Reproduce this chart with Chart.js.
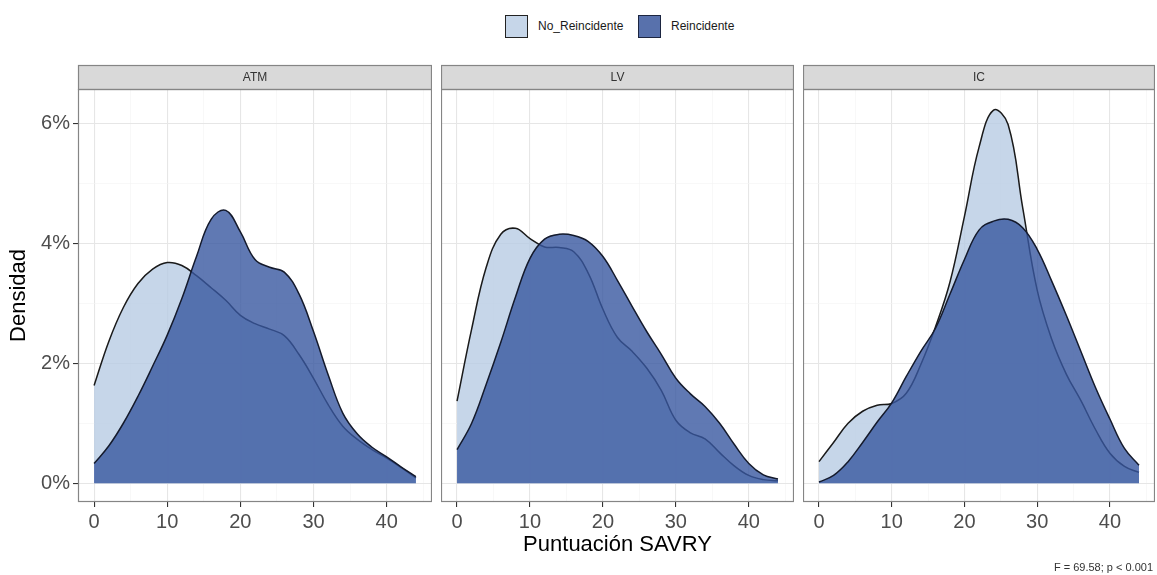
<!DOCTYPE html>
<html lang="es">
<head>
<meta charset="utf-8">
<title>Densidad SAVRY</title>
<script src="https://cdn.jsdelivr.net/npm/chart.js@4.4.1/dist/chart.umd.min.js"></script>
<style>
  body { margin: 0; background: #fff; font-family: "Liberation Sans", Arial, sans-serif; }
  #lienzo { position: relative; width: 1157px; height: 575px; overflow: hidden; }
  #lienzo canvas { position: absolute; top: 60px; }
  .caja { position: absolute; top: 15px; width: 21px; height: 21px; border: 1.5px solid #222; }
  .etiqueta { position: absolute; top: 19px; font-size: 12px; color: #1a1a1a; line-height: 14px; }
  .nota { position: absolute; right: 4px; top: 561px; font-size: 11px; color: #333; }
</style>
</head>
<body>
<div id="lienzo">
  <div class="caja" style="left:505px;background:#c6d6e9;"></div>
  <div class="etiqueta" style="left:538px;">No_Reincidente</div>
  <div class="caja" style="left:638px;background:#5871ac;border-color:#1c2540;"></div>
  <div class="etiqueta" style="left:671px;">Reincidente</div>

  <canvas id="panelATM" width="432" height="502" style="left:0px;"></canvas>
  <canvas id="panelLV" width="353" height="502" style="left:441px;"></canvas>
  <canvas id="panelIC" width="352" height="502" style="left:803px;"></canvas>

  <div class="nota">F = 69.58; p &lt; 0.001</div>
</div>

<script>
// puntuacion SAVRY (eje x) y densidad en %
const puntuacion = [0, 2, 4, 6, 8, 10, 12, 14, 16, 18, 20, 22, 24, 26, 28, 30, 32, 34, 36, 38, 40, 42, 44];

const atmNoReincidente = [1.63, 2.36, 2.93, 3.33, 3.57, 3.68, 3.63, 3.46, 3.26, 3.05, 2.8, 2.66, 2.57, 2.46, 2.15, 1.75, 1.31, 0.95, 0.73, 0.56, 0.42, 0.26, 0.09];
const atmReincidente   = [0.33, 0.62, 1.0, 1.45, 1.95, 2.47, 3.08, 3.78, 4.4, 4.55, 4.19, 3.73, 3.6, 3.52, 3.16, 2.53, 1.81, 1.17, 0.82, 0.6, 0.44, 0.27, 0.11];

const lvNoReincidente = [1.37, 2.57, 3.6, 4.15, 4.25, 4.08, 3.94, 3.93, 3.86, 3.5, 2.9, 2.43, 2.2, 1.92, 1.55, 1.05, 0.84, 0.74, 0.51, 0.29, 0.13, 0.06, 0.04];
const lvReincidente   = [0.56, 1.0, 1.65, 2.35, 3.1, 3.75, 4.07, 4.15, 4.13, 4.03, 3.78, 3.38, 2.95, 2.53, 2.15, 1.75, 1.49, 1.28, 1.0, 0.65, 0.33, 0.14, 0.07];

const icNoReincidente = [0.36, 0.68, 1.0, 1.2, 1.3, 1.33, 1.5, 1.98, 2.6, 3.35, 4.45, 5.6, 6.22, 5.98, 4.6, 3.22, 2.4, 1.82, 1.38, 0.9, 0.5, 0.28, 0.18];
const icReincidente   = [0.02, 0.13, 0.36, 0.68, 1.02, 1.34, 1.78, 2.2, 2.58, 3.15, 3.73, 4.22, 4.37, 4.4, 4.26, 3.9, 3.37, 2.8, 2.2, 1.6, 1.07, 0.58, 0.3];

const ticksX = [0, 10, 20, 30, 40];
const ticksXMenores = [5, 15, 25, 35, 45];
const ticksY = [0, 2, 4, 6];
const ticksYMenores = [1, 3, 5];

Chart.defaults.font.family = '"Liberation Sans", Arial, sans-serif';

const marcoPanel = {
    id: 'marcoPanel',
    afterDraw: function (chart, args, opts) {
        const ctx = chart.ctx;
        const a = chart.chartArea;
        ctx.save();
        // franja gris con el nombre del panel
        ctx.fillStyle = '#d9d9d9';
        ctx.fillRect(a.left, a.top - 24, a.right - a.left, 24);
        ctx.strokeStyle = '#858585';
        ctx.lineWidth = 1.2;
        ctx.strokeRect(a.left + 0.5, a.top - 23.5, a.right - a.left - 1, 24);
        ctx.strokeRect(a.left + 0.5, a.top + 0.5, a.right - a.left - 1, a.bottom - a.top - 1);
        ctx.fillStyle = '#333';
        ctx.font = '12px "Liberation Sans", Arial, sans-serif';
        ctx.textAlign = 'center';
        ctx.textBaseline = 'middle';
        ctx.fillText(opts.texto, (a.left + a.right) / 2, a.top - 11.5);
        ctx.restore();
    }
};

function serie(valores) {
    return puntuacion.map(function (x, i) { return { x: x, y: valores[i] }; });
}

function colorRejilla(mayores) {
    return function (c) { return mayores.includes(c.tick.value) ? '#e6e6e6' : '#f3f3f3'; };
}
function colorMarca(mayores) {
    return function (c) { return mayores.includes(c.tick.value) ? '#333' : 'rgba(0,0,0,0)'; };
}

function crearPanel(id, texto, noReinc, reinc, conEjeY, conTituloX) {
    const ctx = document.getElementById(id).getContext('2d');
    return new Chart(ctx, {
        type: 'line',
        data: {
            datasets: [{
                label: 'Reincidente',
                data: serie(reinc),
                order: 1,
                fill: 'origin',
                backgroundColor: 'rgba(56, 88, 160, 0.8)',
                borderColor: '#141a2c',
                borderWidth: 1.5,
                pointRadius: 0,
                tension: 0.4
            }, {
                label: 'No_Reincidente',
                data: serie(noReinc),
                order: 2,
                fill: 'origin',
                backgroundColor: 'rgba(184, 204, 227, 0.8)',
                borderColor: '#1a1a1a',
                borderWidth: 1.5,
                pointRadius: 0,
                tension: 0.4
            }]
        },
        options: {
            responsive: false,
            animation: false,
            devicePixelRatio: 1,
            layout: { padding: { top: 29, left: 0, right: 0, bottom: 0 } },
            plugins: {
                legend: { display: false },
                tooltip: { enabled: false },
                marcoPanel: { texto: texto }
            },
            scales: {
                x: {
                    type: 'linear',
                    min: -2.2,
                    max: 46.2,
                    afterBuildTicks: function (s) {
                        s.ticks = ticksX.concat(ticksXMenores).sort(function (a, b) { return a - b; })
                            .map(function (v) { return { value: v }; });
                    },
                    afterFit: function (s) { s.height = 60; },
                    ticks: {
                        autoSkip: false,
                        maxRotation: 0,
                        color: '#4d4d4d',
                        font: { size: 20 },
                        padding: 3,
                        callback: function (v) { return ticksX.includes(v) ? String(v) : ''; }
                    },
                    grid: {
                        color: colorRejilla(ticksX),
                        lineWidth: function (c) { return ticksX.includes(c.tick.value) ? 1.1 : 0.6; },
                        tickColor: colorMarca(ticksX),
                        tickLength: 5
                    },
                    border: { display: false },
                    title: {
                        display: conTituloX,
                        text: 'Puntuación SAVRY',
                        color: '#000',
                        font: { size: 22 },
                        padding: { top: 0, bottom: 4 }
                    }
                },
                y: {
                    type: 'linear',
                    min: -0.313,
                    max: 6.573,
                    afterBuildTicks: function (s) {
                        s.ticks = ticksY.concat(ticksYMenores).sort(function (a, b) { return a - b; })
                            .map(function (v) { return { value: v }; });
                    },
                    afterFit: function (s) { s.width = conEjeY ? 78 : 0; },
                    ticks: {
                        display: conEjeY,
                        color: '#4d4d4d',
                        font: { size: 20 },
                        padding: 3,
                        callback: function (v) { return ticksY.includes(v) ? v + '%' : ''; }
                    },
                    grid: {
                        color: colorRejilla(ticksY),
                        lineWidth: function (c) { return ticksY.includes(c.tick.value) ? 1.1 : 0.6; },
                        tickColor: colorMarca(ticksY),
                        tickLength: 5,
                        drawTicks: conEjeY
                    },
                    border: { display: false },
                    title: {
                        display: conEjeY,
                        text: 'Densidad',
                        color: '#000',
                        font: { size: 22 },
                        padding: { top: 6, bottom: 0 }
                    }
                }
            }
        },
        plugins: [marcoPanel]
    });
}

document.addEventListener('DOMContentLoaded', function () {
    crearPanel('panelATM', 'ATM', atmNoReincidente, atmReincidente, true, false);
    crearPanel('panelLV', 'LV', lvNoReincidente, lvReincidente, false, true);
    crearPanel('panelIC', 'IC', icNoReincidente, icReincidente, false, false);
});
</script>
</body>
</html>
